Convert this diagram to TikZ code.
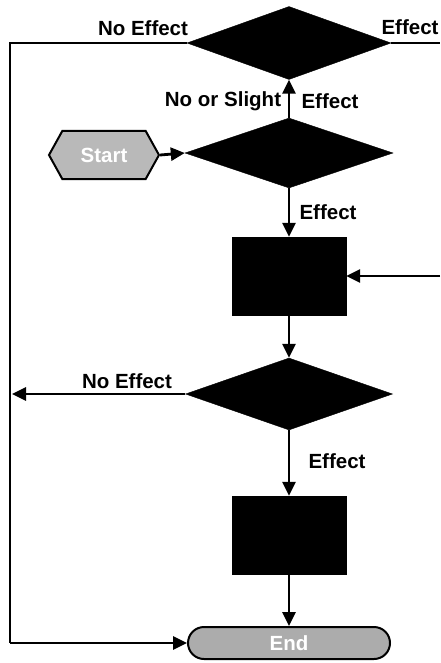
\documentclass[tikz,border=0pt]{standalone}
\usepackage{fontspec}
\setmainfont{Liberation Sans}
\usetikzlibrary{shapes.geometric,shapes.misc,shapes.symbols,arrows.meta}
\begin{document}
\begin{tikzpicture}[x=1pt,y=-1pt,
  every node/.style={font=\fontsize{20.5}{23}\selectfont\bfseries},
  dec/.style={shape=diamond,fill=black,draw=black,inner sep=0pt},
  blk/.style={shape=rectangle,fill=black,draw=black,inner sep=0pt,minimum width=114pt,minimum height=78pt},
  conn/.style={line width=2.8pt,-{Triangle[length=14pt,width=13pt]}},
  plain/.style={line width=2.8pt},
  lbl/.style={inner sep=0pt}]
\useasboundingbox (0,0) rectangle (440,663);
% shapes
\node[dec,minimum width=204pt,minimum height=73pt] (d1) at (289,43) {};
\node[dec,minimum width=208pt,minimum height=70pt] (d2) at (289,153) {};
\node[dec,minimum width=207pt,minimum height=72pt] (d3) at (289,394) {};
\node[blk] (b1) at (289,276) {};
\node[blk] (b2) at (289,535) {};
\node[shape=signal,signal to=west and east,signal pointer angle=122,
      fill=gray!55,draw=black,line width=2pt,minimum width=110pt,minimum height=48pt,
      inner sep=0pt,text=white] (start) at (104,155) {Start};
\node[shape=rounded rectangle,fill=gray!65,draw=black,line width=2pt,
      minimum width=202pt,minimum height=32pt,inner sep=0pt,text=white] (end) at (289,643) {End};
% coordinates
\coordinate (lb) at (10,643);
\coordinate (r1) at (440,43);
\coordinate (r2) at (440,276);
\coordinate (l3) at (12,394);
% connectors
\draw[plain] (d1.west) -| (lb);
\draw[conn] (lb) -- (end.west);
\draw[plain] (d1.east) -- (r1);
\draw[conn] (start.east) -- (d2.west);
\draw[conn] (d2.north) -- (d1.south);
\draw[conn] (d2.south) -- (b1.north);
\draw[conn] (r2) -- (b1.east);
\draw[conn] (b1.south) -- (d3.north);
\draw[conn] (d3.west) -- (l3);
\draw[conn] (d3.south) -- (b2.north);
\draw[conn] (b2.south) -- (end.north);
% labels
\node[lbl] (t1) at (143,28) {No Effect};
\node[lbl] (t2) at (410,27) {Effect};
\node[lbl] (t3) at (223,101) {No or Slight};
\node[lbl] (t4) at (330,101) {Effect};
\node[lbl] (t5) at (328,212) {Effect};
\node[lbl] (t6) at (127,381) {No Effect};
\node[lbl] (t7) at (337,461) {Effect};
\end{tikzpicture}
\end{document}
